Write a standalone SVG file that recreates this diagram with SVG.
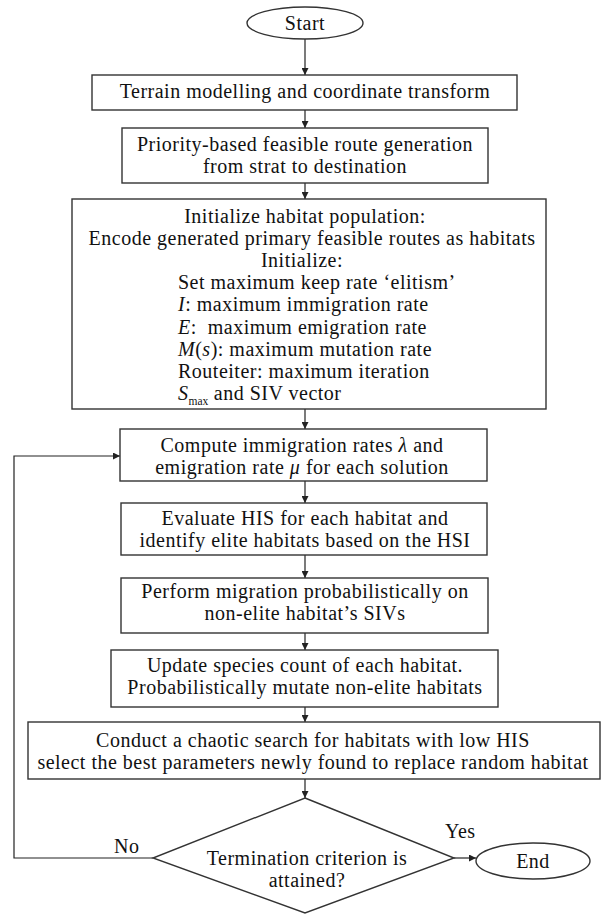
<svg xmlns="http://www.w3.org/2000/svg" width="601" height="915" viewBox="0 0 601 915">
<defs>
<marker id="arr" viewBox="0 0 10 10" refX="10" refY="5" markerWidth="9" markerHeight="7" markerUnits="userSpaceOnUse" orient="auto">
<path d="M0,0 L10,5 L0,10 z" fill="#222"/>
</marker>
<style>
.box{fill:#fff;stroke:#333;stroke-width:1.4}
.t{font-family:"Liberation Serif","Times New Roman",serif;font-size:20px;letter-spacing:0.5px;fill:#111}
.c{text-anchor:middle}
.s{text-anchor:start}
.i{font-style:italic}
.ln{fill:none;stroke:#222;stroke-width:1.2}
</style>
</defs>
<rect width="601" height="915" fill="#fff"/>
<g id="connectors">
<line class="ln" x1="305" y1="39" x2="305" y2="75" marker-end="url(#arr)"/>
<line class="ln" x1="305" y1="110" x2="305" y2="128" marker-end="url(#arr)"/>
<line class="ln" x1="305" y1="183" x2="305" y2="199" marker-end="url(#arr)"/>
<line class="ln" x1="305" y1="409" x2="305" y2="429" marker-end="url(#arr)"/>
<line class="ln" x1="305" y1="481" x2="305" y2="503" marker-end="url(#arr)"/>
<line class="ln" x1="305" y1="555" x2="305" y2="578" marker-end="url(#arr)"/>
<line class="ln" x1="305" y1="633" x2="305" y2="650" marker-end="url(#arr)"/>
<line class="ln" x1="305" y1="707" x2="305" y2="722" marker-end="url(#arr)"/>
<line class="ln" x1="305" y1="779" x2="305" y2="798" marker-end="url(#arr)"/>
<polyline class="ln" points="153,858 14,858 14,456 120,456" marker-end="url(#arr)"/>
<line class="ln" x1="454" y1="858" x2="476" y2="858" marker-end="url(#arr)"/>
<text class="t" x="114" y="853">No</text>
<text class="t" x="445" y="838">Yes</text>
</g>
<g id="start">
<ellipse class="box" cx="305" cy="23" rx="58" ry="16"/>
<text class="t c" x="305" y="30">Start</text>
</g>
<g id="terrain">
<rect class="box" x="92" y="75" width="425" height="35"/>
<text class="t c" x="305" y="98">Terrain modelling and coordinate transform</text>
</g>
<g id="priority">
<rect class="box" x="122" y="128" width="366" height="55"/>
<text class="t c"><tspan x="305" y="151">Priority-based feasible route generation</tspan><tspan x="305" y="173.3">from strat to destination</tspan></text>
</g>
<g id="init">
<rect class="box" x="72" y="199" width="474" height="210"/>
<text class="t"><tspan class="c" x="305" y="222.5">Initialize habitat population:</tspan><tspan class="c" x="312" y="244.7">Encode generated primary feasible routes as habitats</tspan><tspan class="c" x="302" y="266.9">Initialize:</tspan><tspan class="s" x="178" y="289.1">Set maximum keep rate ‘elitism’</tspan><tspan class="s" x="178" y="311.3"><tspan class="i">I</tspan>: maximum immigration rate</tspan><tspan class="s" x="178" y="333.5" xml:space="preserve"><tspan class="i">E</tspan>:  maximum emigration rate</tspan><tspan class="s" x="178" y="355.7"><tspan class="i">M</tspan>(<tspan class="i">s</tspan>): maximum mutation rate</tspan><tspan class="s" x="178" y="377.9">Routeiter: maximum iteration</tspan><tspan class="s" x="178" y="400.1"><tspan class="i">S</tspan><tspan font-size="11.5" letter-spacing="0" dy="4.5">max</tspan><tspan dy="-4.5"> and SIV vector</tspan></tspan></text>
</g>
<g id="compute">
<rect class="box" x="120" y="429" width="367" height="52"/>
<text class="t c"><tspan x="302" y="451.5">Compute immigration rates <tspan class="i">λ</tspan> and</tspan><tspan x="302" y="473.8">emigration rate <tspan class="i">μ</tspan> for each solution</tspan></text>
</g>
<g id="evaluate">
<rect class="box" x="121" y="503" width="366" height="52"/>
<text class="t c"><tspan x="305" y="524.5">Evaluate HIS for each habitat and</tspan><tspan x="305" y="546.8">identify elite habitats based on the HSI</tspan></text>
</g>
<g id="perform">
<rect class="box" x="121" y="578" width="367" height="55"/>
<text class="t c"><tspan x="305" y="598">Perform migration probabilistically on</tspan><tspan x="305" y="620.3">non-elite habitat’s SIVs</tspan></text>
</g>
<g id="update">
<rect class="box" x="111" y="650" width="387" height="57"/>
<text class="t c"><tspan x="305" y="672">Update species count of each habitat.</tspan><tspan x="305" y="694.3">Probabilistically mutate non-elite habitats</tspan></text>
</g>
<g id="conduct">
<rect class="box" x="28" y="722" width="572" height="57"/>
<text class="t c"><tspan x="313" y="746.5">Conduct a chaotic search for habitats with low HIS</tspan><tspan x="313" y="768.8">select the best parameters newly found to replace random habitat</tspan></text>
</g>
<g id="decision">
<polygon class="box" points="305,798 454,858 305,913 153,858"/>
<text class="t c"><tspan x="307" y="864.5">Termination criterion is</tspan><tspan x="307" y="886.8">attained?</tspan></text>
</g>
<g id="end">
<ellipse class="box" cx="533" cy="861" rx="57" ry="18"/>
<text class="t c" x="533" y="868">End</text>
</g>
</svg>
